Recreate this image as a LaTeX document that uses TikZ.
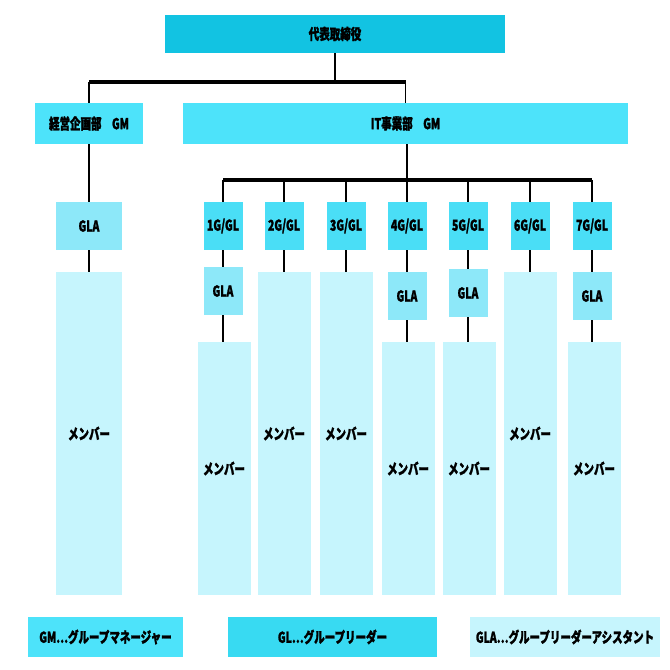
\documentclass[tikz,border=0pt]{standalone}
\usepackage{fontspec}
\newfontfamily\jp{Noto Sans CJK JP}[FakeStretch=0.7,BoldFeatures={FakeBold=1.5}]
\usepackage{tikz}
\usetikzlibrary{positioning,calc}
\usepackage{xcolor}
\definecolor{ceocol}{HTML}{12C3E2}
\definecolor{deptcol}{HTML}{4DE3FA}
\definecolor{glcol}{HTML}{4ADEF6}
\definecolor{glacol}{HTML}{8DE8F9}
\definecolor{memcol}{HTML}{C6F5FD}
\definecolor{legglcol}{HTML}{38DAF2}

\tikzset{
	box/.style={rectangle,inner sep=0pt,text=black,font=\jp\bfseries\fontsize{15}{17}\selectfont},
	link/.style={line width=1.6pt},
	bar/.style={line width=3.2pt}
}

\begin{document}
\begin{tikzpicture}[
			x=1pt,y=-1pt,
			every node/.style={box}
			]
			\useasboundingbox[fill=white] (0,0) rectangle (670,670);
			
			% Top
			\node[fill=ceocol,minimum width=340,minimum height=38] (ceo) at (335,34){代表取締役};
			
			% Departments
			\node[fill=deptcol,minimum width=108,minimum height=41] (dept1) at (89,123.5){経営企画部　GM};
			\node[fill=deptcol,minimum width=445,minimum height=41] (dept2) at (405.5,123.5){IT事業部　GM};
			
			% Left column
			\node[fill=glacol,minimum width=66,minimum height=48] (glaA) at (89,226){GLA};
			\node[fill=memcol,minimum width=66,minimum height=323] (memA) at (89,433.5){メンバー};
			
			% Groups
			\foreach \i/\x in {1/223,2/284,3/346,4/407,5/468,6/530,7/592}
			{
				\node[fill=glcol,minimum width=39,minimum height=48] (g\i) at (\x,226){\i G/GL};
			}
			
			% Group leader assistants
			\foreach \i/\x/\y in {1/223/291,4/407/296,5/468/293,7/592/296}
			{
				\node[fill=glacol,minimum width=39,minimum height=48] (gla\i) at (\x,\y){GLA};
			}
			
			% Members
			\foreach \i/\x in {2/284,3/346,6/530}
			{
				\node[fill=memcol,minimum width=53,minimum height=323] (mem\i) at (\x,433.5){メンバー};
			}
			\foreach \i/\x in {1/224,4/408,5/469,7/594}
			{
				\node[fill=memcol,minimum width=53,minimum height=253] (mem\i) at (\x,468.5){メンバー};
			}
			
			% Legend
			\node[fill=deptcol,minimum width=155,minimum height=40] (lgm) at (105.5,637){GM⋯グループマネージャー};
			\node[fill=legglcol,minimum width=209,minimum height=40] (lgl) at (332.5,637){GL⋯グループリーダー};
			\node[fill=memcol,minimum width=190,minimum height=40] (lgla) at (565,637){GLA⋯グループリーダーアシスタント};
			
			% Connections
			\coordinate (top) at (335,82);
			\coordinate (gbar) at (407,180);
			\draw[link] (ceo) -- (top);
			\draw[bar] (dept1.north |- top) -- (dept2.north |- top);
			\draw[link] (dept1.north |- top) -- (dept1);
			\draw[link] (dept2.north |- top) -- (dept2.north |- dept1.north);
			\draw[link] (dept1) -- (glaA);
			\draw[link] (glaA) -- (memA);
			\draw[link] (gbar) -- (gbar |- dept2.south);
			\draw[bar] (g1.north |- gbar) -- (g7.north |- gbar);
			
			\foreach \i in {1,...,7}
			{
				\draw[link] (g\i.north |- gbar) -- (g\i);
			}
			\foreach \i in {1,4,5,7}
			{
				\draw[link] (g\i) -- (gla\i);
				\draw[link] (gla\i) -- (gla\i |- mem\i.north);
			}
			\foreach \i in {2,3,6}
			{
				\draw[link] (g\i) -- (mem\i);
			}
			
		\end{tikzpicture}
\end{document}
